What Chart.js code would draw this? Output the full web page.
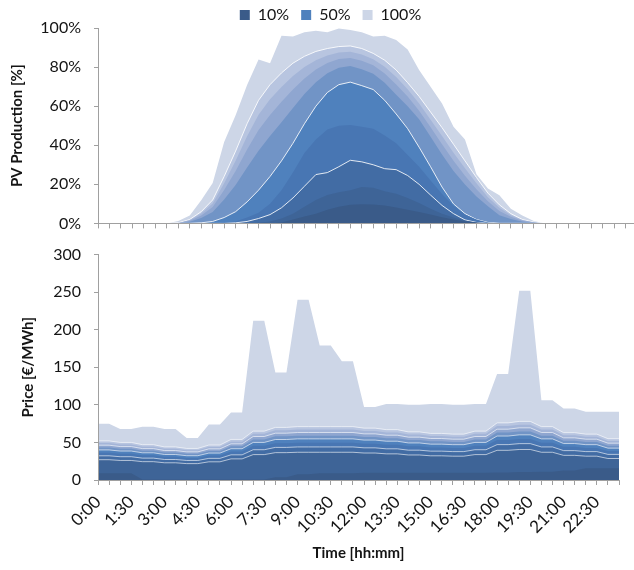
<!DOCTYPE html>
<html><head><meta charset="utf-8">
<script src="https://cdn.jsdelivr.net/npm/chart.js@4.4.0/dist/chart.umd.min.js"></script>
<style>
html,body{margin:0;padding:0;width:634px;height:570px;overflow:hidden;background:#fff;}
#top{position:absolute;left:0;top:0;width:640px;height:246px;}
#bot{position:absolute;left:0;top:232px;width:634px;height:338px;}
</style></head><body>
<div id="top"><canvas id="c1"></canvas></div>
<div id="bot"><canvas id="c2"></canvas></div>
<script>
// Categories (half-hourly)
const times = ['0:00','0:30','1:00','1:30','2:00','2:30','3:00','3:30','4:00','4:30','5:00','5:30','6:00','6:30','7:00','7:30','8:00','8:30','9:00','9:30','10:00','10:30','11:00','11:30','12:00','12:30','13:00','13:30','14:00','14:30','15:00','15:30','16:00','16:30','17:00','17:30','18:00','18:30','19:00','19:30','20:00','20:30','21:00','21:30','22:00','22:30','23:00','23:30'];
const bandNames = ['10%','20%','30%','40%','50%','60%','70%','80%','90%','100%'];
const legendShown = ['10%','50%','100%'];

// PV production quantiles [%]
const pv10  = [0,0,0,0,0,0,0,0,0,0,0,0,0,0,0,0,0.5,2,3.5,5,7,8.5,9.5,9.8,9.7,9.2,8.2,7,5.8,4.5,3.2,2,1,0.4,0,0,0,0,0,0,0,0,0,0,0,0,0,0];
const pv20  = [0,0,0,0,0,0,0,0,0,0,0,0,0,0,0.3,1,2.5,5,8.5,12,14.5,16,17,18.6,18.2,16.5,15.2,13,10.5,7.5,5,3,1.5,0.5,0,0,0,0,0,0,0,0,0,0,0,0,0,0];
const pv30  = [0,0,0,0,0,0,0,0,0,0,0,0,0.3,1,2.5,4.5,8,13,19,25,26,29,32.3,31.5,30,28,27.5,24.5,20,14.5,9.2,5,1.8,0.5,0,0,0,0,0,0,0,0,0,0,0,0,0,0];
const pv40  = [0,0,0,0,0,0,0,0,0,0,0,0.3,1,3,5.5,10,17,26,36,43,48,50,50.3,49.5,48.5,45,41,35,29,22,15,9,4.5,2,0.4,0,0,0,0,0,0,0,0,0,0,0,0,0];
const pv50  = [0,0,0,0,0,0,0,0,0,0.3,1,3,6,11,17,24,32,41,51,60,67,71,72.3,70.5,68.5,63,56,48.5,39,29,18.6,10,5,2,0.5,0,0,0,0,0,0,0,0,0,0,0,0,0];
const pv60  = [0,0,0,0,0,0,0,0.1,0.9,2.8,5.8,12.2,19.6,28.6,37.2,44.7,51.8,59,66.2,72.3,76.9,79.6,80.5,78.9,76.6,72,65.9,60,53.3,44.4,35.3,26.8,19.9,13.8,8.8,4.2,2.2,0.9,0.3,0,0,0,0,0,0,0,0,0];
const pv70  = [0,0,0,0,0,0,0,0.2,1.3,4.1,8.4,17.1,26.8,37.8,47.8,55.5,62.2,68.5,74.1,78.8,82.1,84.1,84.7,83.2,80.9,76.7,71.1,65,57.7,49.2,40.5,32,24.4,17.5,11.3,6.4,3.4,1.3,0.5,0,0,0,0,0,0,0,0,0];
const pv80  = [0,0,0,0,0,0,0,0.25,1.7,5.1,10.2,20.6,32,44.6,55.6,63.5,69.8,75.4,80,83.5,85.9,87.4,87.8,86.5,84,80.2,74.9,68.7,61.4,53.1,44.7,36.2,28.2,20.5,13.4,8,4.2,1.7,0.6,0,0,0,0,0,0,0,0,0];
const pv90  = [0,0,0,0,0,0,0,0.3,2,6,12,24,37,51,63,71,77,82,85.5,88,89.5,90.5,90.8,89.5,87,83.5,78.5,72,65,57,49,40.5,32,23.5,15.5,9.5,5,2,0.7,0,0,0,0,0,0,0,0,0];
const pv100 = [0,0,0,0,0,0,0,1.2,4,11.8,20.7,41.7,55.4,70.8,83.9,81.9,96,95.6,97.8,98.6,97.8,99.8,99,97.8,95.6,96,93.8,89,78.5,69.9,61.4,49.4,42.9,25.1,17.8,14.4,7.5,4.1,1.2,0,0,0,0,0,0,0,0,0];

// Price quantiles [EUR/MWh]
const pr10  = [9,9,9,9,0.5,0.5,0.5,0.5,0.5,0.5,0.5,0.5,0.5,0.5,0.5,0.5,3.5,3.5,7.5,7.5,9,9,9,9,9.5,9.5,9.5,9.5,9.5,9.5,9.5,9.5,9.5,9.5,9.5,9.5,10,10,10.5,10.5,11,11,12.5,12.5,15.5,15.5,15.5,15.5];
const pr20  = [27,27,26,26,24.4,24.4,22.9,22.9,21.8,21.8,24.2,24.2,28.1,28.1,33.8,33.8,36.4,36.4,36.9,36.9,36.9,36.9,36.9,36.9,35.9,35.9,34.8,34.8,33.3,33.3,32.2,32.2,31.7,31.7,33.8,33.8,39.5,39.5,40.6,40.6,36.9,36.9,32.8,32.8,31.7,31.7,28.6,28.6];
const pr30  = [32.2,32.2,31,31,29.1,29.1,27.3,27.3,26,26,28.8,28.8,33.5,33.5,40.3,40.3,43.4,43.4,44,44,44,44,44,44,42.8,42.8,41.5,41.5,39.7,39.7,38.4,38.4,37.8,37.8,40.3,40.3,47.1,47.1,48.4,48.4,44,44,39.1,39.1,37.8,37.8,34.1,34.1];
const pr40  = [36.4,36.4,35,35,32.9,32.9,30.8,30.8,29.4,29.4,32.6,32.6,37.8,37.8,45.5,45.5,49,49,49.7,49.7,49.7,49.7,49.7,49.7,48.3,48.3,46.9,46.9,44.8,44.8,43.4,43.4,42.7,42.7,45.5,45.5,53.2,53.2,54.6,54.6,49.7,49.7,44.1,44.1,42.7,42.7,38.5,38.5];
const pr50  = [40,40,38.5,38.5,36.2,36.2,33.9,33.9,32.3,32.3,35.8,35.8,41.6,41.6,50,50,53.9,53.9,54.7,54.7,54.7,54.7,54.7,54.7,53.1,53.1,51.6,51.6,49.3,49.3,47.7,47.7,47,47,50,50,58.5,58.5,60.1,60.1,54.7,54.7,48.5,48.5,47,47,42.4,42.4];
const pr60  = [43.2,43.2,41.5,41.5,39,39,36.5,36.5,34.9,34.9,38.6,38.6,44.8,44.8,54,54,58.1,58.1,58.9,58.9,58.9,58.9,58.9,58.9,57.3,57.3,55.6,55.6,53.1,53.1,51.5,51.5,50.6,50.6,54,54,63.1,63.1,64.7,64.7,58.9,58.9,52.3,52.3,50.6,50.6,45.7,45.7];
const pr70  = [46.3,46.3,44.5,44.5,41.8,41.8,39.2,39.2,37.4,37.4,41.4,41.4,48.1,48.1,57.9,57.9,62.3,62.3,63.2,63.2,63.2,63.2,63.2,63.2,61.4,61.4,59.6,59.6,57,57,55.2,55.2,54.3,54.3,57.9,57.9,67.6,67.6,69.4,69.4,63.2,63.2,56.1,56.1,54.3,54.3,49,49];
const pr80  = [49.1,49.1,47.3,47.3,44.4,44.4,41.6,41.6,39.7,39.7,43.9,43.9,51,51,61.4,61.4,66.2,66.2,67.1,67.1,67.1,67.1,67.1,67.1,65.2,65.2,63.3,63.3,60.5,60.5,58.6,58.6,57.6,57.6,61.4,61.4,71.8,71.8,73.7,73.7,67.1,67.1,59.5,59.5,57.6,57.6,52,52];
const pr90  = [52,52,50,50,47,47,44,44,42,42,46.5,46.5,54,54,65,65,70,70,71,71,71,71,71,71,69,69,67,67,64,64,62,62,61,61,65,65,76,76,78,78,71,71,63,63,61,61,55,55];
const pr100 = [75,75,68,68,71,71,68,68,56,56,74,74,90,90,212,212,143,143,240,240,179,179,158,158,97,97,101,101,100,100,101,101,100,100,101,101,141,141,252,252,106,106,95,95,91,91,91,91];

// Tick values
const pvTicks = [0,20,40,60,80,100];
const priceTicks = [0,50,100,150,200,250,300];

// Styles
const bandColors = ['#3a5b89','#3e6497','#426ca4','#4876b3','#4f81bd','#7194c6','#8fa6d0','#a4b5d8','#b8c5e0','#cdd6e7'];
const pvWhite = [2,4,8];
const prWhite = [1,2,4,6,8];
const axisGray = '#a0a0a0';
const textCol = '#141414';

Chart.defaults.font.family = 'Lato';
Chart.defaults.color = textCol;

function makeSets(arrs, whites, alpha) {
  return arrs.map((d, i) => ({
    label: bandNames[i], data: d,
    backgroundColor: bandColors[i],
    borderColor: whites.includes(i) ? 'rgba(255,255,255,' + alpha + ')' : bandColors[i],
    borderWidth: whites.includes(i) ? 1 : 0,
    fill: 'origin', pointRadius: 0, pointHoverRadius: 0, tension: 0
  }));
}

const legendShift = {
  id: 'legendShift',
  afterLayout(chart) {
    const l = chart.legend;
    if (!l || !l.options.display) return;
    l.left += 12; l.right += 12; l.top -= 13;
  }
};

function yAxis(min, max, step, fmt, title, titlePad) {
  return {
    min, max,
    afterBuildTicks: s => { s.ticks = (max === 100 ? pvTicks : priceTicks).map(v => ({value: v})); },
    ticks: { stepSize: step, callback: fmt, font: {size: 16}, color: textCol, padding: 13 },
    grid: { drawOnChartArea: false, tickLength: 4, color: axisGray },
    border: { color: axisGray, z: 1 },
    title: { display: true, text: title, font: {size: 15, weight: 'bold'}, color: textCol, padding: {top: titlePad, bottom: 0} },
    afterFit: s => { s.width = 98; }
  };
}

new Chart(document.getElementById('c1'), {
  type: 'line',
  data: { labels: times, datasets: makeSets([pv10,pv20,pv30,pv40,pv50,pv60,pv70,pv80,pv90,pv100], pvWhite, 0.85) },
  options: {
    responsive: true, maintainAspectRatio: false, animation: false, devicePixelRatio: 1,
    layout: { padding: { top: 8, right: 3, left: 0, bottom: 0 } },
    plugins: {
      legend: {
        display: true, position: 'top', maxHeight: 20,
        labels: {
          boxWidth: 10, boxHeight: 10, padding: 12, font: {size: 16}, color: textCol,
          generateLabels: chart => Chart.defaults.plugins.legend.labels.generateLabels(chart)
            .map(l => Object.assign(l, {lineWidth: 0, strokeStyle: 'rgba(0,0,0,0)'})),
          filter: item => legendShown.includes(item.text)
        }
      },
      tooltip: { enabled: false }
    },
    scales: {
      x: {
        offset: false,
        grid: { display: true, drawOnChartArea: false, drawTicks: true, tickLength: 5, color: axisGray },
        border: { color: axisGray, z: 1 },
        ticks: { display: false, autoSkip: false },
        afterFit: s => { s.height = 9; }
      },
      y: yAxis(0, 100, 20, v => v + '%', 'PV Production [%]', 8)
    }
  },
  plugins: [legendShift]
});

new Chart(document.getElementById('c2'), {
  type: 'line',
  data: { labels: times, datasets: makeSets([pr10,pr20,pr30,pr40,pr50,pr60,pr70,pr80,pr90,pr100], prWhite, 0.6) },
  options: {
    responsive: true, maintainAspectRatio: false, animation: false, devicePixelRatio: 1,
    layout: { padding: { top: 21, right: 15, left: 0, bottom: 0 } },
    plugins: { legend: { display: false }, tooltip: { enabled: false } },
    scales: {
      x: {
        offset: false,
        grid: { display: true, drawOnChartArea: false, tickLength: 5, color: axisGray },
        border: { color: axisGray, z: 1 },
        ticks: { autoSkip: false, maxRotation: 45, minRotation: 45, padding: 7, font: {size: 17}, color: textCol,
                 callback: (v, i) => (i % 3 === 0 ? times[i] : '') },
        title: { display: true, text: 'Time [hh:mm]', font: {size: 15, weight: 'bold'}, color: textCol, padding: {top: 0, bottom: 8} },
        afterFit: s => { s.height = 90; s.paddingRight = 0; }
      },
      y: yAxis(0, 300, 50, v => String(v), 'Price [€/MWh]', 19)
    }
  }
});
</script>
</body></html>
